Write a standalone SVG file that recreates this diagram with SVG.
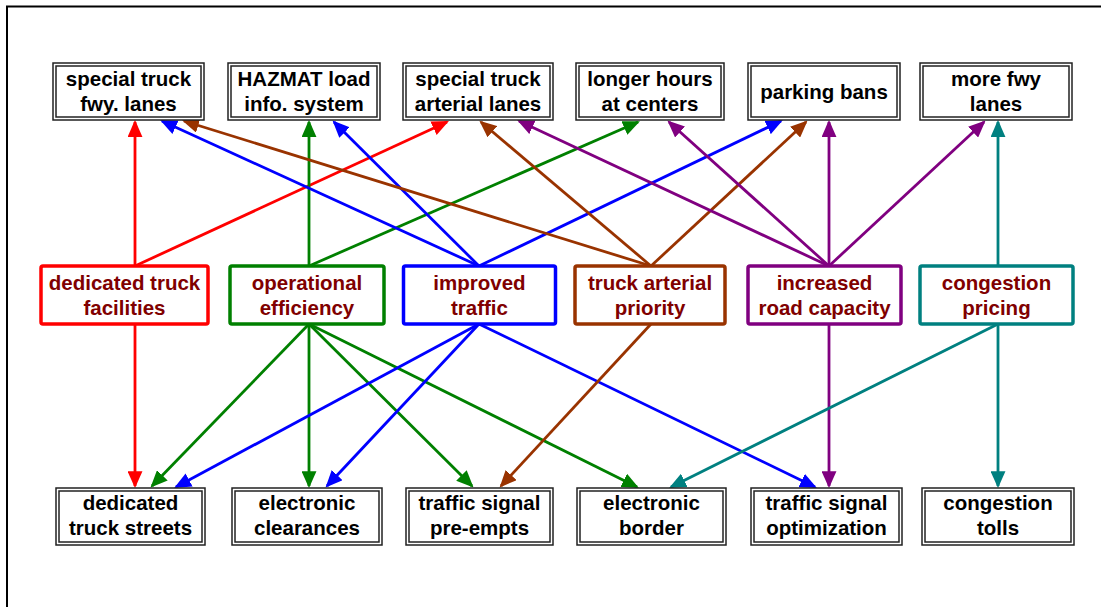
<svg xmlns="http://www.w3.org/2000/svg" width="1101" height="607" viewBox="0 0 1101 607">
<defs>
<style>
.t{font-family:"Liberation Sans",Arial,sans-serif;font-weight:bold;font-size:20.5px;text-anchor:middle;fill:#000}
.m{font-family:"Liberation Sans",Arial,sans-serif;font-weight:bold;font-size:20.5px;text-anchor:middle;fill:#800000}
.o{fill:#fff;stroke:#222;stroke-width:1.5}
.i{fill:none;stroke:#222;stroke-width:1.5}
.mb{fill:#fff;stroke-width:3.5}
.e{fill:none;stroke-width:2.8}
.red{stroke:#ff0000}.grn{stroke:#008000}.blu{stroke:#0000ff}.brn{stroke:#993300}.pur{stroke:#800080}.tea{stroke:#008080}
</style>
<marker id="aR" markerUnits="userSpaceOnUse" markerWidth="17" markerHeight="15" viewBox="0 0 16 14" refX="14" refY="7" orient="auto"><path d="M0,0 L16,7 L0,14 z" fill="#ff0000"/></marker>
<marker id="aG" markerUnits="userSpaceOnUse" markerWidth="17" markerHeight="15" viewBox="0 0 16 14" refX="14" refY="7" orient="auto"><path d="M0,0 L16,7 L0,14 z" fill="#008000"/></marker>
<marker id="aB" markerUnits="userSpaceOnUse" markerWidth="17" markerHeight="15" viewBox="0 0 16 14" refX="14" refY="7" orient="auto"><path d="M0,0 L16,7 L0,14 z" fill="#0000ff"/></marker>
<marker id="aN" markerUnits="userSpaceOnUse" markerWidth="17" markerHeight="15" viewBox="0 0 16 14" refX="14" refY="7" orient="auto"><path d="M0,0 L16,7 L0,14 z" fill="#993300"/></marker>
<marker id="aP" markerUnits="userSpaceOnUse" markerWidth="17" markerHeight="15" viewBox="0 0 16 14" refX="14" refY="7" orient="auto"><path d="M0,0 L16,7 L0,14 z" fill="#800080"/></marker>
<marker id="aT" markerUnits="userSpaceOnUse" markerWidth="17" markerHeight="15" viewBox="0 0 16 14" refX="14" refY="7" orient="auto"><path d="M0,0 L16,7 L0,14 z" fill="#008080"/></marker>
</defs>
<rect width="1101" height="607" fill="#fff"/>
<rect x="7" y="6.5" width="1200" height="700" fill="none" stroke="#000" stroke-width="2"/>

<g id="connectors">
<line class="e red" x1="135" y1="266" x2="135" y2="122" marker-end="url(#aR)"/>
<line class="e red" x1="135" y1="266" x2="447" y2="122" marker-end="url(#aR)"/>
<line class="e red" x1="135" y1="324" x2="135" y2="486" marker-end="url(#aR)"/>

<line class="e grn" x1="309" y1="266" x2="309" y2="122" marker-end="url(#aG)"/>
<line class="e grn" x1="309" y1="266" x2="638" y2="122" marker-end="url(#aG)"/>
<line class="e grn" x1="309" y1="324" x2="152" y2="486" marker-end="url(#aG)"/>
<line class="e grn" x1="309" y1="324" x2="309" y2="486" marker-end="url(#aG)"/>
<line class="e grn" x1="309" y1="324" x2="472" y2="486" marker-end="url(#aG)"/>
<line class="e grn" x1="309" y1="324" x2="637" y2="487" marker-end="url(#aG)"/>

<line class="e blu" x1="479" y1="266" x2="162" y2="121" marker-end="url(#aB)"/>
<line class="e blu" x1="479" y1="266" x2="334" y2="122" marker-end="url(#aB)"/>
<line class="e blu" x1="479" y1="266" x2="781" y2="121" marker-end="url(#aB)"/>
<line class="e blu" x1="479" y1="324" x2="176" y2="487" marker-end="url(#aB)"/>
<line class="e blu" x1="479" y1="324" x2="327" y2="486" marker-end="url(#aB)"/>
<line class="e blu" x1="479" y1="324" x2="815" y2="487" marker-end="url(#aB)"/>

<line class="e brn" x1="651" y1="266" x2="184" y2="121" marker-end="url(#aN)"/>
<line class="e brn" x1="651" y1="266" x2="481" y2="122" marker-end="url(#aN)"/>
<line class="e brn" x1="651" y1="266" x2="806" y2="122" marker-end="url(#aN)"/>
<line class="e brn" x1="651" y1="324" x2="501" y2="486" marker-end="url(#aN)"/>

<line class="e pur" x1="829" y1="266" x2="519" y2="121" marker-end="url(#aP)"/>
<line class="e pur" x1="829" y1="266" x2="669" y2="122" marker-end="url(#aP)"/>
<line class="e pur" x1="829" y1="266" x2="829" y2="122" marker-end="url(#aP)"/>
<line class="e pur" x1="829" y1="266" x2="984" y2="122" marker-end="url(#aP)"/>
<line class="e pur" x1="829" y1="324" x2="829" y2="486" marker-end="url(#aP)"/>

<line class="e tea" x1="998" y1="266" x2="998" y2="122" marker-end="url(#aT)"/>
<line class="e tea" x1="998" y1="324" x2="671" y2="487" marker-end="url(#aT)"/>
<line class="e tea" x1="998" y1="324" x2="998" y2="486" marker-end="url(#aT)"/>
</g>

<g id="t1"><rect class="o" x="53" y="63" width="151" height="57"/><rect class="i" x="56" y="66" width="145" height="51"/><text class="t" x="128.5" y="86">special truck</text><text class="t" x="128.5" y="111">fwy. lanes</text></g>
<g id="t2"><rect class="o" x="228" y="63" width="152" height="57"/><rect class="i" x="231" y="66" width="146" height="51"/><text class="t" x="304" y="86">HAZMAT load</text><text class="t" x="304" y="111">info. system</text></g>
<g id="t3"><rect class="o" x="403" y="63" width="150" height="57"/><rect class="i" x="406" y="66" width="144" height="51"/><text class="t" x="478" y="86">special truck</text><text class="t" x="478" y="111">arterial lanes</text></g>
<g id="t4"><rect class="o" x="576" y="63" width="148" height="57"/><rect class="i" x="579" y="66" width="142" height="51"/><text class="t" x="650" y="86">longer hours</text><text class="t" x="650" y="111">at centers</text></g>
<g id="t5"><rect class="o" x="748" y="63" width="152" height="57"/><rect class="i" x="751" y="66" width="146" height="51"/><text class="t" x="824" y="98.5">parking bans</text></g>
<g id="t6"><rect class="o" x="920" y="63" width="152" height="57"/><rect class="i" x="923" y="66" width="146" height="51"/><text class="t" x="996" y="86">more fwy</text><text class="t" x="996" y="111">lanes</text></g>

<g id="m1"><rect class="mb red" x="41" y="266" width="167" height="58" rx="2"/><text class="m" x="124.5" y="290">dedicated truck</text><text class="m" x="124.5" y="315">facilities</text></g>
<g id="m2"><rect class="mb grn" x="230" y="266" width="154" height="58" rx="2"/><text class="m" x="307" y="290">operational</text><text class="m" x="307" y="315">efficiency</text></g>
<g id="m3"><rect class="mb blu" x="403.5" y="266" width="152" height="58" rx="2"/><text class="m" x="479.5" y="290">improved</text><text class="m" x="479.5" y="315">traffic</text></g>
<g id="m4"><rect class="mb brn" x="575" y="266" width="150" height="58" rx="2"/><text class="m" x="650" y="290">truck arterial</text><text class="m" x="650" y="315">priority</text></g>
<g id="m5"><rect class="mb pur" x="748" y="266" width="153" height="58" rx="2"/><text class="m" x="824.5" y="290">increased</text><text class="m" x="824.5" y="315">road capacity</text></g>
<g id="m6"><rect class="mb tea" x="920" y="266" width="153" height="58" rx="2"/><text class="m" x="996.5" y="290">congestion</text><text class="m" x="996.5" y="315">pricing</text></g>

<g id="b1"><rect class="o" x="56" y="488" width="149" height="57"/><rect class="i" x="59" y="491" width="143" height="51"/><text class="t" x="130.5" y="510">dedicated</text><text class="t" x="130.5" y="535">truck streets</text></g>
<g id="b2"><rect class="o" x="232" y="488" width="150" height="57"/><rect class="i" x="235" y="491" width="144" height="51"/><text class="t" x="307" y="510">electronic</text><text class="t" x="307" y="535">clearances</text></g>
<g id="b3"><rect class="o" x="406" y="488" width="147" height="57"/><rect class="i" x="409" y="491" width="141" height="51"/><text class="t" x="479.5" y="510">traffic signal</text><text class="t" x="479.5" y="535">pre-empts</text></g>
<g id="b4"><rect class="o" x="577" y="488" width="149" height="57"/><rect class="i" x="580" y="491" width="143" height="51"/><text class="t" x="651.5" y="510">electronic</text><text class="t" x="651.5" y="535">border</text></g>
<g id="b5"><rect class="o" x="751" y="488" width="151" height="57"/><rect class="i" x="754" y="491" width="145" height="51"/><text class="t" x="826.5" y="510">traffic signal</text><text class="t" x="826.5" y="535">optimization</text></g>
<g id="b6"><rect class="o" x="922" y="488" width="152" height="57"/><rect class="i" x="925" y="491" width="146" height="51"/><text class="t" x="998" y="510">congestion</text><text class="t" x="998" y="535">tolls</text></g>
</svg>
